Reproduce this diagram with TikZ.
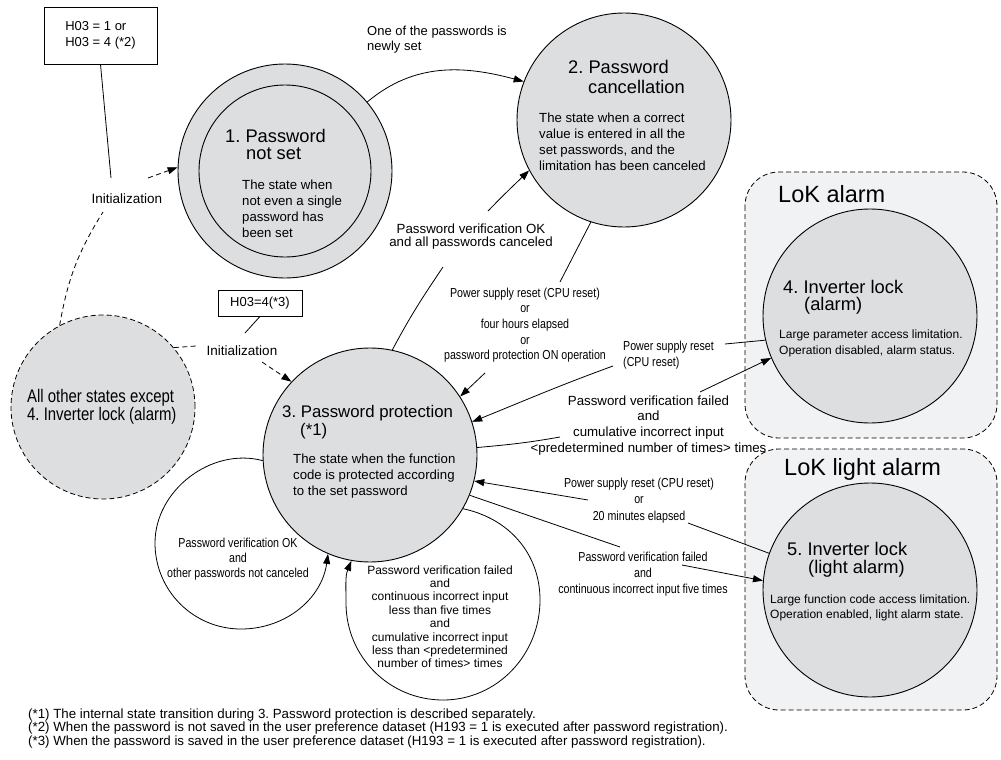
\documentclass[tikz,border=0pt]{standalone}
\usepackage{fontspec}
\setmainfont{Liberation Sans}
\newfontfamily\narrowfont[FakeStretch=0.82]{Liberation Sans}
\usetikzlibrary{arrows.meta}

\definecolor{stategray}{RGB}{221,222,224}
\definecolor{zonegray}{RGB}{241,242,244}
\newcommand{\fsz}[2]{\fontsize{#1}{#2}\selectfont}

\begin{document}
\frenchspacing
\begin{tikzpicture}[x=1pt,y=1pt,
  state/.style={circle, draw, line width=0.9pt, fill=stategray, minimum size=214pt, inner sep=0pt},
  zone/.style={draw, line width=0.8pt, dash pattern=on 5pt off 3pt, fill=zonegray, rounded corners=34pt},
  conn/.style={line width=0.8pt},
  arr/.style={conn, -{Triangle[length=10pt,width=7pt]}},
  dconn/.style={conn, dash pattern=on 5pt off 3.5pt},
  darr/.style={dconn, -{Triangle[length=10pt,width=7pt]}},
  txt/.style={inner sep=0pt, anchor=north west, align=left},
  ctxt/.style={inner sep=0pt, anchor=north, align=center},
  title/.style={txt, font=\fsz{18.3}{17.5}},
  body/.style={txt, font=\fsz{13.2}{16}},
  narrowlbl/.style={ctxt, font=\narrowfont\fsz{13}{16}},
  plainlbl/.style={ctxt, font=\fsz{13.3}{15.7}},
  notebox/.style={draw, line width=0.8pt, inner sep=0pt, align=left, font=\fsz{13}{16}},
]
\useasboundingbox (0,0) rectangle (1001,-760);

% alarm zones
\draw[zone] (745,-172) rectangle (997,-438);
\draw[zone] (745,-449) rectangle (997,-710);
\node[txt, font=\fsz{23.5}{24}] (zoneA) at (778,-184.8) {LoK alarm};
\node[txt, font=\fsz{23.5}{24}] (zoneB) at (784,-457.8) {LoK light alarm};

% states
\node[state] (c1) at (285,-171) {};
\draw[line width=0.9pt] (c1.center) circle[radius=86];
\node[state] (c2) at (624,-120) {};
\node[state] (c3) at (370,-455) {};
\node[state] (c4) at (870,-316) {};
\node[state] (c5) at (870,-590) {};
\node[circle, draw, line width=0.8pt, dash pattern=on 5pt off 3pt, fill=stategray,
      minimum size=184pt, inner sep=0pt] (call) at (103,-407) {};

% state texts
\node[title] (t1) at (225,-128.6) {1. Password\\\hspace*{21pt}not set};
\node[body]  (b1) at (242,-179.4) {The state when\\not even a single\\password has\\been set};
\node[title, font=\fsz{18.3}{20}] (t2) at (568,-59.6) {2. Password\\\hspace*{20pt}cancellation};
\node[body]  (b2) at (539,-112.4) {The state when a correct\\value is entered in all the\\set passwords, and the\\limitation has been canceled};
\node[title, font=\fsz{16.8}{18}] (t3) at (282,-404.7) {3. Password protection\\\hspace*{18pt}(*1)};
\node[body]  (b3) at (293,-453.4) {The state when the function\\code is protected according\\to the set password};
\node[title] (t4) at (783,-279.6) {4. Inverter lock\\\hspace*{21pt}(alarm)};
\node[body, font=\fsz{12}{16}] (b4) at (779,-329.2) {Large parameter access limitation.\\Operation disabled, alarm status.};
\node[title, font=\fsz{18.3}{18}] (t5) at (787,-541.6) {5. Inverter lock\\\hspace*{21pt}(light alarm)};
\node[body, font=\fsz{12}{15}] (b5) at (770,-594.2) {Large function code access limitation.\\Operation enabled, light alarm state.};
\node[txt, font=\narrowfont\fsz{18.2}{18}] (tall) at (27,-388.7) {All other states except\\4. Inverter lock (alarm)};

% note boxes
\node[notebox, minimum width=113pt, minimum height=57pt] (box1) at (100.5,-35.5) {H03 = 1 or\\H03 = 4 (*2)};
\node[notebox, minimum width=84pt, minimum height=26pt] (box2) at (260,-303) {H03=4(*3)};

% free ends of the broken connectors
\coordinate (k1)  at (111,-178);
\coordinate (k2)  at (245,-333);
\coordinate (kI1) at (103,-212);
\coordinate (kI2) at (148,-178);
\coordinate (kJ1) at (196,-346);
\coordinate (kJ2) at (262,-362);
\coordinate (kB1) at (443,-267);
\coordinate (kB2) at (488,-211);
\coordinate (kC1) at (560,-282);
\coordinate (kC2) at (485,-373);
\coordinate (kD1) at (725,-344);
\coordinate (kD2) at (613,-366);
\coordinate (kE1) at (560,-437);
\coordinate (kE2) at (700,-392);
\coordinate (kF1) at (688,-523);
\coordinate (kF2) at (588,-500);
\coordinate (kG1) at (620,-547);
\coordinate (kG2) at (682,-565);
\coordinate (hL) at (155,-543);
\coordinate (hB) at (241,-629);
\coordinate (iR) at (540,-600);
\coordinate (iB) at (443,-700);
\coordinate (iL) at (346,-603);

% callout lines of the note boxes
\draw[conn] (box1.south) -- (k1);
\draw[conn] (box2.south) -- (k2);

% initialization transitions
\draw[dconn] (call.118) to[out=80,in=238] (kI1);
\draw[darr] (kI2) -- (c1.178);
\draw[dconn] (call.40) -- (kJ1);
\draw[darr] (kJ2) -- (c3.137);
\node[font=\fsz{13.5}{14}, inner sep=0pt] (init1) at (127,-199) {Initialization};
\node[font=\fsz{13.5}{14}, inner sep=0pt] (init2) at (242,-351) {Initialization};

% transitions
\draw[arr] (c1.40) to[out=40,in=165] (c2.159);
\node[txt, font=\fsz{13}{15}] (lA) at (367,-25.5) {One of the passwords is\\newly set};

\draw[conn] (c3.78) to[out=62,in=236] (kB1);
\draw[arr] (kB2) to[out=46,in=224] (c2.208);
\node[plainlbl, font=\fsz{13.3}{13}] (lB) at (471,-223.3) {Password verification OK\\and all passwords canceled};

\draw[conn] (c2.252) -- (kC1);
\draw[arr] (kC2) -- (c3.33);
\node[narrowlbl, font=\narrowfont\fsz{13}{15.7}] (lC) at (525,-287.5) {Power supply reset (CPU reset)\\or\\four hours elapsed\\or\\password protection ON operation};

\draw[conn] (c4.193) -- (kD1);
\draw[arr] (kD2) to[out=200,in=22] (c3.18);
\node[txt, font=\narrowfont\fsz{13}{16}] (lD) at (623,-340.5) {Power supply reset\\(CPU reset)};

\draw[conn] (c3.4) to[out=5,in=190] (kE1);
\draw[arr] (kE2) -- (c4.203);
\node[plainlbl] (lE) at (648.5,-395.3) {Password verification failed\\and\\cumulative incorrect input\\{<}predetermined number of times{>} times};

\draw[conn] (c5.160) -- (kF1);
\draw[arr] (kF2) -- (c3.-14);
\node[narrowlbl, font=\narrowfont\fsz{13}{16.5}] (lF) at (639,-477.5) {Power supply reset (CPU reset)\\or\\20 minutes elapsed};

\draw[conn] (c3.-22) -- (kG1);
\draw[arr] (kG2) -- (c5.175);
\node[narrowlbl] (lG) at (643,-551.5) {Password verification failed\\and\\continuous incorrect input five times};

% self transitions of state 3
\draw[arr] (c3.183) to[out=165,in=90] (hL) to[out=270,in=180] (hB) to[out=0,in=262] (c3.247);
\node[narrowlbl, font=\narrowfont\fsz{13}{15}] (lH) at (238,-537.5) {Password verification OK\\and\\other passwords not canceled};

\draw[arr] (c3.-30) to[out=-12,in=90] (iR) to[out=270,in=0] (iB) to[out=180,in=270] (iL) to[out=90,in=248] (c3.260);
\node[ctxt, font=\fsz{12}{13.4}] (lI) at (440,-565.2) {Password verification failed\\and\\continuous incorrect input\\less than five times\\and\\cumulative incorrect input\\less than {<}predetermined\\number of times{>} times};

% footnotes
\node[txt, font=\fsz{13.3}{13.5}] (notes) at (28,-708.5) {(*1) The internal state transition during 3. Password protection is described separately.\\(*2) When the password is not saved in the user preference dataset (H193 = 1 is executed after password registration).\\(*3) When the password is saved in the user preference dataset (H193 = 1 is executed after password registration).};
\end{tikzpicture}
\end{document}
